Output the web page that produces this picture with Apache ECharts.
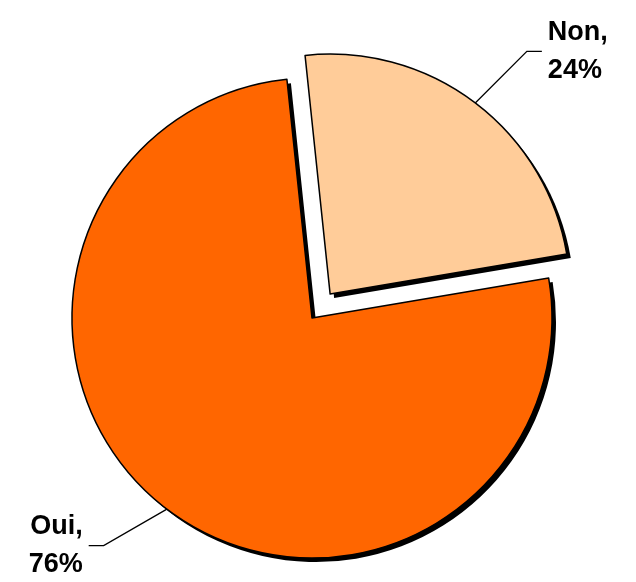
<!DOCTYPE html>
<html>
<head>
<meta charset="utf-8">
<script src="https://cdn.jsdelivr.net/npm/echarts@6/dist/echarts.min.js"></script>
<style>
html,body{margin:0;padding:0;background:#fff;}
#c{width:636px;height:582px;}
</style>
</head>
<body>
<div id="c"></div>
<script>
const categories = ['Non', 'Oui'];
const values = [24, 76];
const colors = ['#FFCC99', '#FF6600'];
const explode = [30, 0];          // pulled-out distance per slice (px)
// leader line directions (degrees, screen coords) per slice
const lineAngles = [-45, 150];

const CX = 312, CY = 318, R = 240, START = 96, SH = 4;
const total = values.reduce((a, b) => a + b, 0);

const chart = echarts.init(document.getElementById('c'), null, {renderer: 'canvas'});

function sliceOffset(i) {
  let acc = 0;
  for (let k = 0; k < i; k++) acc += values[k];
  const mid = START - 360 * (acc + values[i] / 2) / total;
  const a = mid * Math.PI / 180;
  return [explode[i] * Math.cos(a), -explode[i] * Math.sin(a)];
}

function labelLayout(params) {
  const pts = params.labelLinePoints;
  if (!pts) return {};
  const s = pts[0];
  const a = lineAngles[params.dataIndex] * Math.PI / 180;
  const m = [s[0] + 73 * Math.cos(a), s[1] + 73 * Math.sin(a)];
  const right = Math.cos(a) > 0;
  const e = [m[0] + (right ? 15 : -15), m[1]];
  return {
    x: e[0] + (right ? 6 : -6),
    y: e[1],
    align: right ? 'left' : 'right',
    verticalAlign: 'middle',
    labelLinePoints: [s, m, e]
  };
}

const series = [];
categories.forEach((c, i) => {
  const off = sliceOffset(i);
  [true, false].forEach(shadow => {
    const data = categories.map((cc, j) => {
      const vis = j === i;
      return {
        name: cc,
        value: values[j],
        itemStyle: vis
          ? (shadow ? {color: '#000', borderWidth: 0}
                    : {color: colors[j], borderColor: '#000', borderWidth: 1.5})
          : {color: 'rgba(0,0,0,0)', borderWidth: 0},
        label: {show: vis && !shadow},
        labelLine: {show: vis && !shadow}
      };
    });
    series.push({
      type: 'pie',
      center: [CX + off[0] + (shadow ? SH : 0), CY + off[1] + (shadow ? SH : 0)],
      radius: R,
      startAngle: START,
      clockwise: true,
      silent: true,
      z: shadow ? 1 : 2,
      emphasis: {disabled: true},
      avoidLabelOverlap: false,
      label: {
        position: 'outside',
        formatter: '{b},\n{d}%',
        fontFamily: 'Liberation Sans, Arial, sans-serif',
        fontWeight: 'bold',
        fontSize: 27,
        lineHeight: 38,
        color: '#000'
      },
      labelLine: {
        length: 73,
        length2: 15,
        lineStyle: {color: '#000', width: 1.3}
      },
      labelLayout: labelLayout,
      data: data
    });
  });
});

chart.setOption({animation: false, series: series});
</script>
</body>
</html>
